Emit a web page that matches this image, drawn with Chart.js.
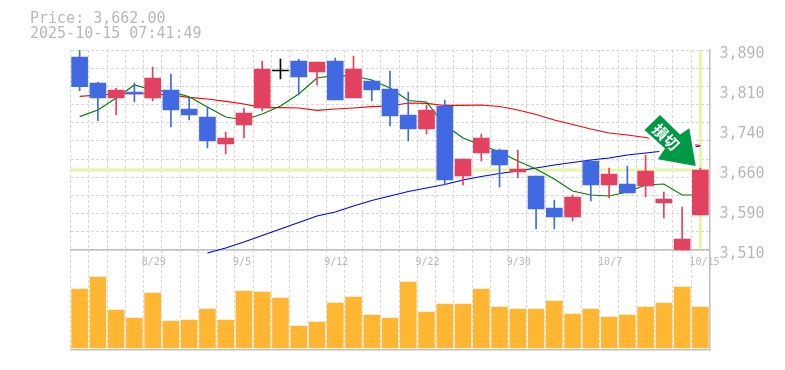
<!DOCTYPE html>
<html>
<head>
<meta charset="utf-8">
<style>
  html, body { margin: 0; padding: 0; background: #fff; }
  canvas { display: block; }
</style>
<script src="https://cdn.jsdelivr.net/npm/chart.js@4"></script>
</head>
<body>
<canvas id="priceChart" width="785" height="370"></canvas>
<script>
const dates = ['8/25','8/26','8/27','8/28','8/29','9/1','9/2','9/3','9/4','9/5','9/8','9/9','9/10','9/11','9/12','9/16','9/17','9/18','9/19','9/22','9/24','9/25','9/26','9/29','9/30','10/1','10/2','10/3','10/6','10/7','10/8','10/9','10/10','10/14','10/15'];
const labelledDates = ['8/29','9/5','9/12','9/22','9/30','10/7','10/15'];

const opens = [3876.7,3827.3,3798.8,3810.2,3798.8,3814,3777.9,3762.7,3711.4,3747.5,3779.8,3850.1,3869.1,3848.2,3869.1,3798.8,3831.1,3815.9,3766.5,3739.9,3783.6,3650.6,3694.3,3700,3658.2,3650.6,3589.8,3572.7,3679.1,3633.5,3635.4,3631.6,3599.3,3510,3576.5];
const closes = [3820.3,3798.8,3814,3806.4,3836.8,3776,3766.5,3717.1,3722.8,3770.3,3853.9,3850.1,3838.7,3867.2,3795,3853.9,3814,3764.6,3739.9,3776,3643,3682.9,3722.8,3671.5,3663.9,3587.9,3572.7,3610.7,3633.5,3654.4,3618.3,3660.1,3606.9,3530.9,3662];
const highs = [3890,3829.2,3817.2,3827.3,3857.7,3844.4,3800.7,3781.7,3734.2,3779.8,3869.1,3872.9,3872.9,3867.2,3874.8,3878.6,3833,3850.1,3810.2,3785.5,3795,3682.9,3730.4,3701.9,3700,3650.6,3605,3614.5,3681,3665.8,3669.6,3690.5,3620.2,3591.7,3665.8];
const lows = [3812.7,3755.7,3766.5,3791.2,3793.1,3743.7,3757,3703.8,3692.4,3722.8,3774.1,3834.9,3804.5,3823.5,3795,3798.8,3793.1,3745.6,3717.1,3730.4,3633.5,3633.5,3679.1,3629.7,3646.8,3549.9,3549.9,3565.1,3603.1,3608.8,3618.3,3610.7,3570.8,3510,3576.5];

const maShort = [3763.3,3776,3798.8,3823.5,3814,3810.8,3801.3,3781.7,3762.7,3757,3768.4,3783.6,3806.4,3836.8,3841.6,3840.6,3833,3817.8,3794,3791.2,3747.5,3722.8,3709.5,3696.2,3679.1,3663.9,3644.9,3622.1,3614.5,3612.6,3620.2,3633.5,3635.4,3614.5,3614.5];
const maMid = [3802,3804.5,3806.4,3807.7,3806.4,3804.5,3800.1,3796.9,3792.5,3787.4,3780.4,3780.4,3779.8,3775.4,3777.9,3779.8,3782.3,3783.6,3789.3,3788.4,3784.6,3784.6,3785.5,3782.7,3776,3767.5,3757,3748.5,3739.9,3732.3,3728.5,3723.8,3717.1,3713.3,3708.6];
const maLong = [null,null,null,null,null,null,null,3504.3,3513.8,3525.2,3537.6,3549.9,3562.2,3574.6,3582.2,3593.6,3604,3612.6,3621.2,3627.8,3634.4,3643,3649.7,3655.4,3660.1,3665.8,3671.5,3676.3,3681,3684.8,3690.5,3694.3,3698.1,3702.9,3707.6];

const volumes = [59,71,38,30,55,27,28,39,28,57,56,50,22,26,45,51,33,30,66,36,44,44,59,41,39,39,47,34,39,31,33,41,45,61,41];

const currentPrice = 3662;
const priceTicks = [3890,3814,3738,3662,3586,3510];
const priceTickLabels = ['3,890','3,810','3,740','3,660','3,590','3,510'];
const gridLevels = [3890,3855.5,3821,3786.4,3751.8,3717.3,3682.7,3648.2,3613.6,3579.1,3544.5,3510];
const headerLines = ['Price: 3,662.00', '2025-10-15 07:41:49'];

const UP = '#e2425f', DOWN = '#4169e1', FLAT = '#000000';
const TEXT = '#b8b8b8', AXIS = '#c0c0c0', GRID = '#d8d8d8';
const MONO = '"DejaVu Sans Mono", monospace';

function candleColor(i) {
    if (closes[i] > opens[i]) return UP;
    if (closes[i] < opens[i]) return DOWN;
    return FLAT;
}
const candleColors = dates.map((d, i) => candleColor(i));

// current price cross goes under the candles
const priceLines = {
    id: 'priceLines',
    beforeDatasetsDraw(chart) {
        const { ctx, chartArea, scales } = chart;
        const y = scales.price.getPixelForValue(currentPrice);
        const x = scales.x.getPixelForValue(dates.length - 1);
        ctx.save();
        ctx.strokeStyle = '#e6f5a9';
        ctx.lineWidth = 3;
        ctx.beginPath();
        ctx.moveTo(chartArea.left, y);
        ctx.lineTo(chartArea.right, y);
        ctx.moveTo(x, chartArea.top);
        ctx.lineTo(x, scales.price.getPixelForValue(3512));
        ctx.stroke();
        ctx.restore();
    }
};

// the green stop-loss arrow and the header text
const overlay = {
    id: 'overlay',
    afterDraw(chart) {
        const { ctx } = chart;
        ctx.save();
        ctx.fillStyle = TEXT;
        ctx.font = '15px ' + MONO;
        ctx.textBaseline = 'alphabetic';
        ctx.fillText(headerLines[0], 30, 23);
        ctx.fillText(headerLines[1], 30, 38);

        ctx.beginPath();
        ctx.moveTo(660, 115);
        ctx.lineTo(644.5, 130);
        ctx.lineTo(665, 148.5);
        ctx.lineTo(657.7, 159.3);
        ctx.lineTo(695.7, 166);
        ctx.lineTo(689.3, 128.3);
        ctx.lineTo(680, 134.5);
        ctx.closePath();
        ctx.lineJoin = 'round';
        ctx.strokeStyle = '#ffffff';
        ctx.lineWidth = 6;
        ctx.stroke();
        ctx.fillStyle = '#009944';
        ctx.fill();

        ctx.translate(666, 137);
        ctx.rotate(Math.PI / 4);
        ctx.fillStyle = '#ffffff';
        ctx.font = 'bold 15px "Noto Sans CJK JP"';
        ctx.textAlign = 'center';
        ctx.textBaseline = 'middle';
        ctx.fillText('損切', 0, 0);
        ctx.restore();
    }
};

new Chart(document.getElementById('priceChart').getContext('2d'), {
    data: {
        labels: dates,
        datasets: [
            { type: 'bar', label: 'body', data: dates.map((d, i) => [opens[i], closes[i]]), yAxisID: 'price', backgroundColor: candleColors, barThickness: 16, minBarLength: 1, grouped: false, order: 1 },
            { type: 'bar', label: 'wick', data: dates.map((d, i) => [lows[i], highs[i]]), yAxisID: 'price', backgroundColor: candleColors, barThickness: 1, grouped: false, order: 2 },
            { type: 'line', label: 'MA short', data: maShort, yAxisID: 'price', borderColor: '#008000', borderWidth: 1.2, pointRadius: 0, tension: 0, order: 3 },
            { type: 'line', label: 'MA mid', data: maMid, yAxisID: 'price', borderColor: '#ff0000', borderWidth: 1.2, pointRadius: 0, tension: 0, order: 3 },
            { type: 'line', label: 'MA long', data: maLong, yAxisID: 'price', borderColor: '#0000ff', borderWidth: 1.2, pointRadius: 0, tension: 0, order: 3 },
            { type: 'bar', label: 'volume', data: volumes, yAxisID: 'vol', backgroundColor: '#ffb733', barThickness: 16, grouped: false, order: 4 }
        ]
    },
    options: {
        responsive: false,
        animation: false,
        layout: { padding: { left: 70.5, top: 50, right: 19, bottom: 20 } },
        plugins: { legend: { display: false }, tooltip: { enabled: false } },
        scales: {
            x: {
                offset: true,
                grid: { color: GRID, offset: true, drawTicks: false },
                border: { color: AXIS, width: 1.5, dash: [3, 2] },
                ticks: { display: false, autoSkip: false },
                afterFit(scale) { scale.height = 0; }
            },
            dateLabels: {
                axis: 'x',
                type: 'category',
                position: { price: 3510 },
                offset: true,
                grid: { display: false, drawTicks: false },
                border: { color: AXIS, width: 1.5 },
                ticks: {
                    autoSkip: false,
                    maxRotation: 0,
                    align: 'start',
                    labelOffset: -11,
                    padding: 6,
                    color: TEXT,
                    font: { family: MONO, size: 10 },
                    callback(value) {
                        const d = dates[value];
                        return labelledDates.includes(d) ? d : '';
                    }
                }
            },
            price: {
                position: 'right',
                min: 3320,
                max: 3890,
                grid: { display: false, drawTicks: false },
                border: { color: AXIS, width: 1.5 },
                afterBuildTicks(scale) { scale.ticks = priceTicks.map(v => ({ value: v })); },
                afterFit(scale) { scale.width = 56.5; },
                ticks: {
                    padding: 10,
                    labelOffset: 4,
                    color: TEXT,
                    font: { family: MONO, size: 15 },
                    callback(value) { return priceTickLabels[priceTicks.indexOf(value)]; }
                }
            },
            gridY: {
                position: 'left',
                min: 3320,
                max: 3890,
                grid: { color: GRID, drawTicks: false },
                border: { display: false, dash: [3, 2] },
                ticks: { display: false },
                afterBuildTicks(scale) { scale.ticks = gridLevels.map(v => ({ value: v })); },
                afterFit(scale) { scale.width = 0; }
            },
            vol: { display: false, min: -2, max: 298 }
        }
    },
    plugins: [priceLines, overlay]
});
</script>
</body>
</html>
